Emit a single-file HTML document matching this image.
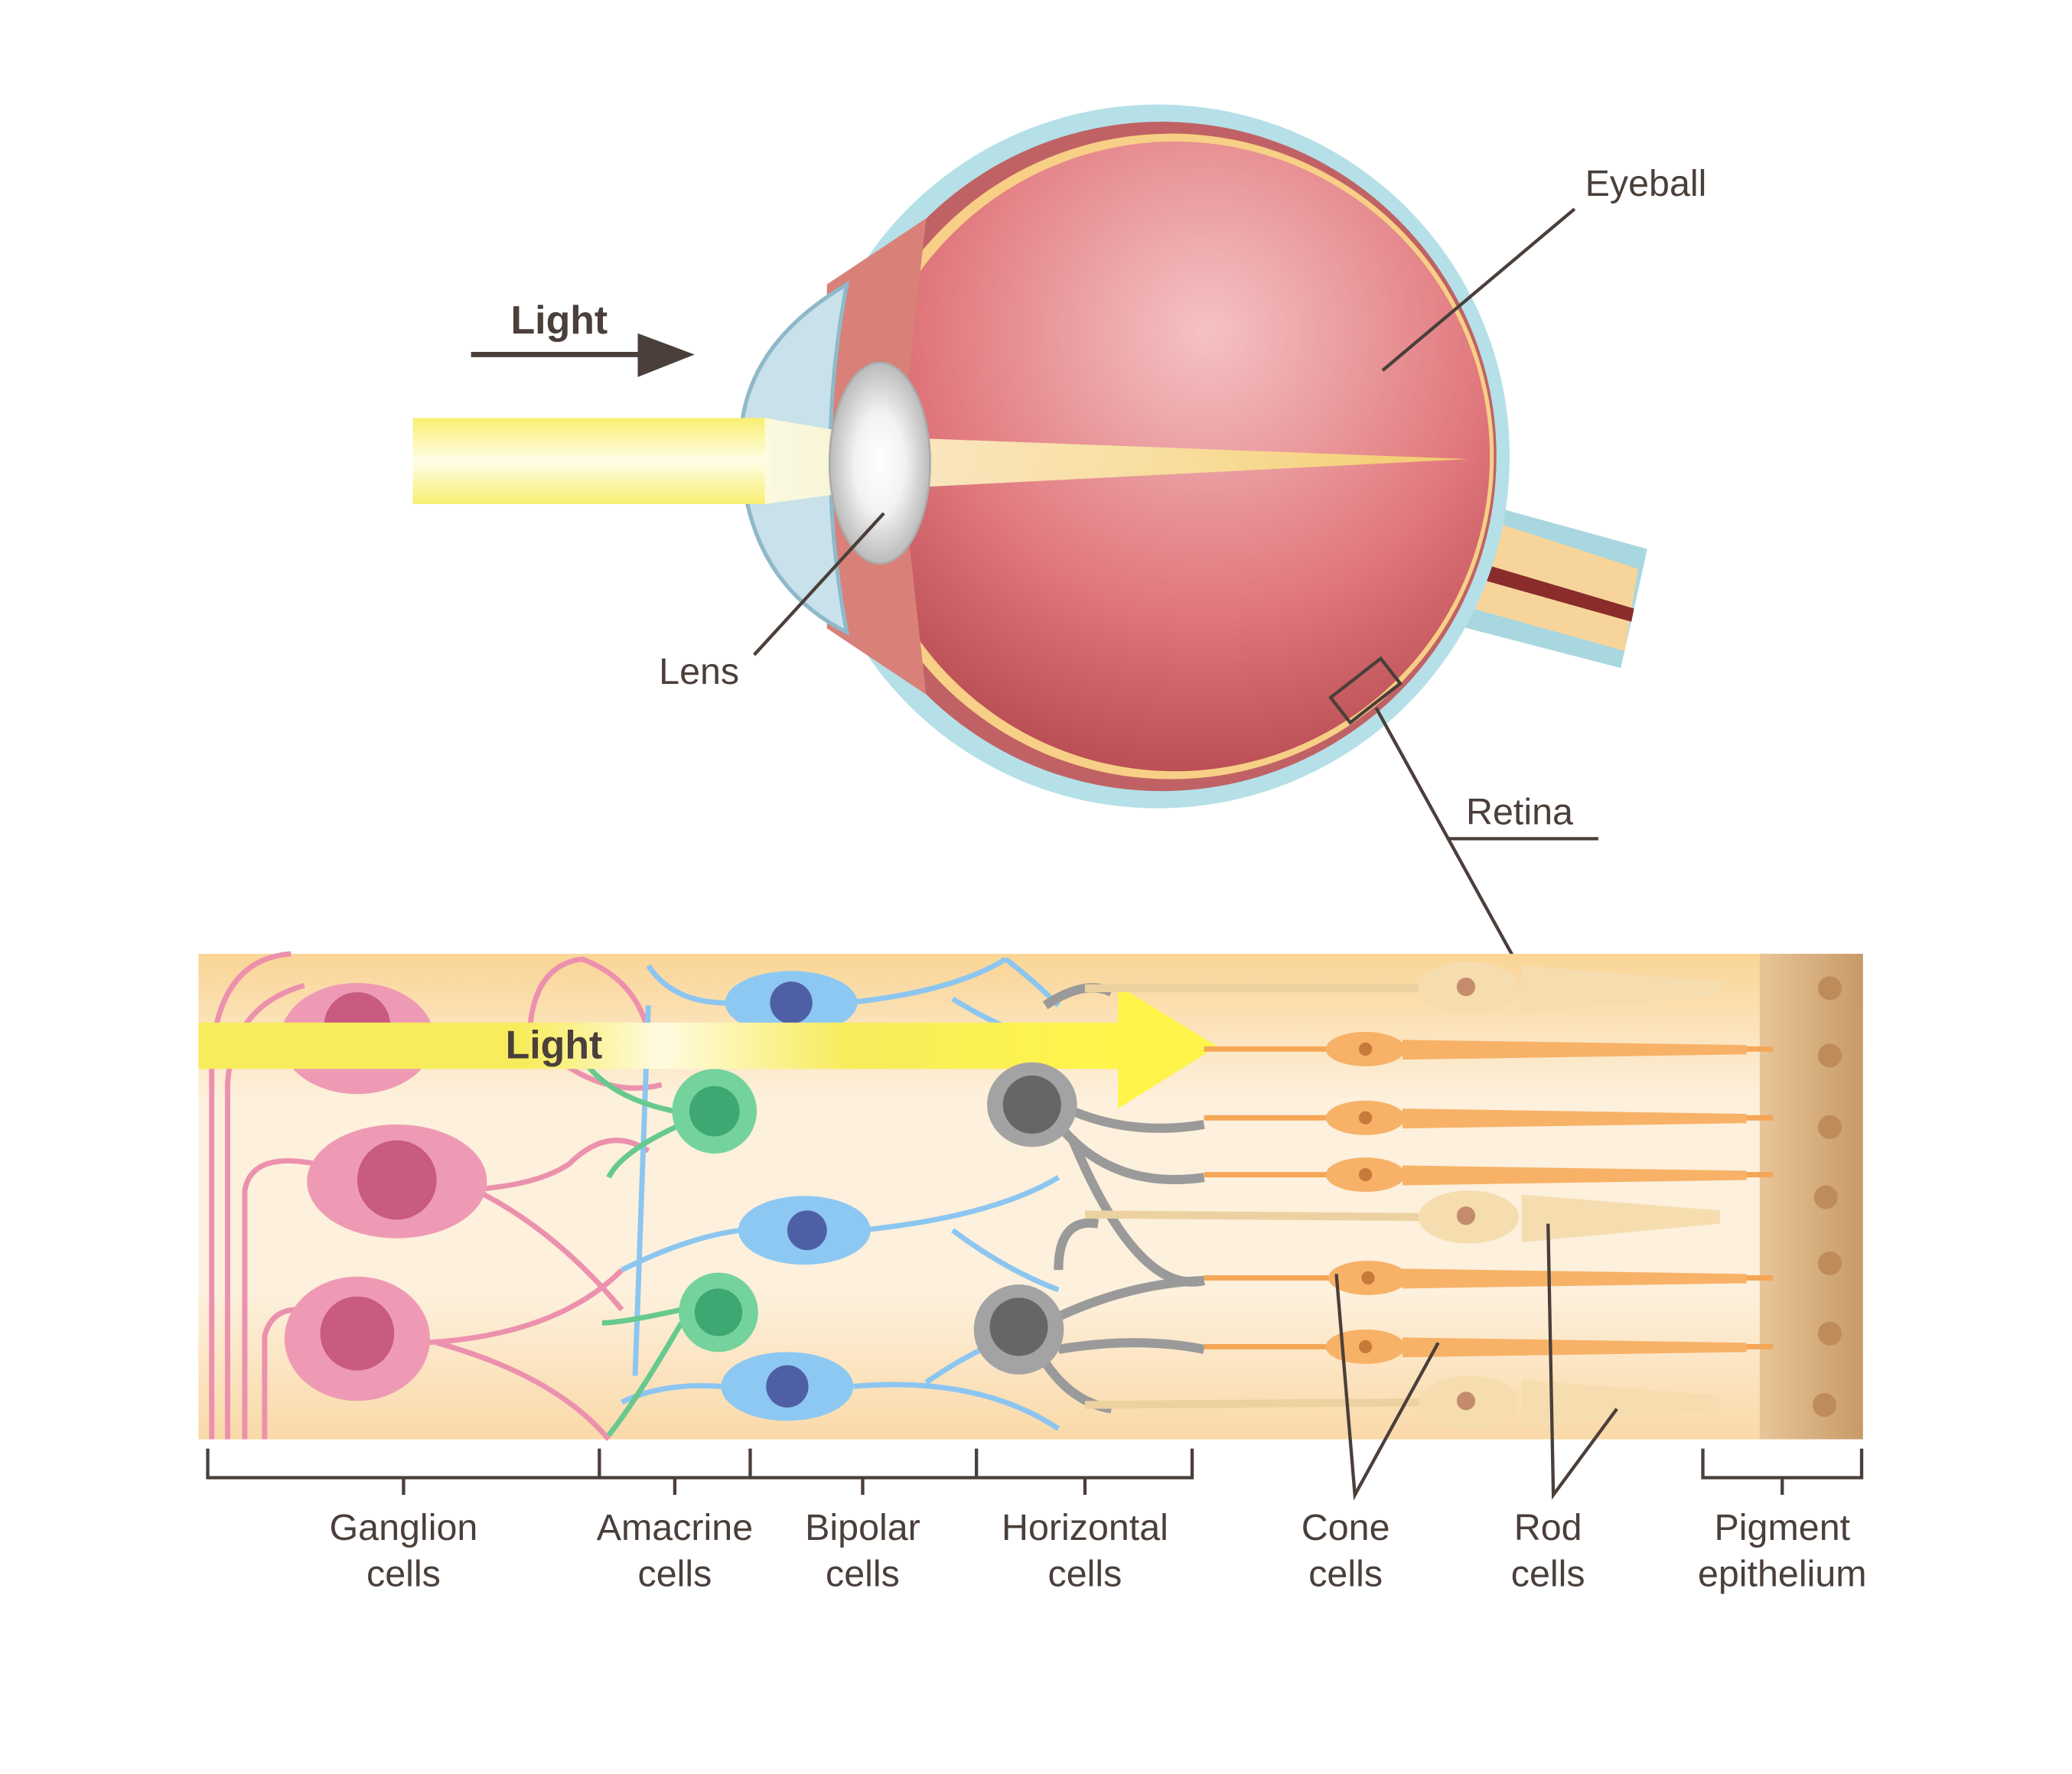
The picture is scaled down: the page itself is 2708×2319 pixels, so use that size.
<!DOCTYPE html>
<html><head><meta charset="utf-8"><style>
html,body{margin:0;padding:0;background:#fff}
svg{display:block}
text{font-family:"Liberation Sans",sans-serif;fill:#4a3f3a}
</style></head><body>
<svg width="2708" height="2319" viewBox="0 0 1566 1341" preserveAspectRatio="none" xmlns="http://www.w3.org/2000/svg">
<defs>
<radialGradient id="eb" cx="0.55" cy="0.3" r="0.75"><stop offset="0" stop-color="#f5c2c4"/><stop offset="0.6" stop-color="#e0777c"/><stop offset="1" stop-color="#b4484e"/></radialGradient>
<linearGradient id="beam" x1="0" y1="0" x2="0" y2="1"><stop offset="0" stop-color="#f8ef70"/><stop offset="0.5" stop-color="#fffde8"/><stop offset="1" stop-color="#f8ef70"/></linearGradient>
<linearGradient id="cone" x1="0" y1="0" x2="1" y2="0"><stop offset="0" stop-color="#fffbe0"/><stop offset="1" stop-color="#f5d36a"/></linearGradient>
<linearGradient id="ret" x1="0" y1="0" x2="0" y2="1"><stop offset="0" stop-color="#fad596"/><stop offset="0.3" stop-color="#fdf0dc"/><stop offset="0.7" stop-color="#fdf0dc"/><stop offset="1" stop-color="#fad9a8"/></linearGradient>
<linearGradient id="la" x1="0" y1="0" x2="1" y2="0"><stop offset="0" stop-color="#f7ec5c"/><stop offset="0.35" stop-color="#f7ec5c"/><stop offset="0.5" stop-color="#fffbe0"/><stop offset="0.7" stop-color="#f7ec5c"/><stop offset="1" stop-color="#fff54a"/></linearGradient>
<linearGradient id="pig" x1="0" y1="0" x2="1" y2="0"><stop offset="0" stop-color="#e8c598"/><stop offset="1" stop-color="#c89a68"/></linearGradient>
<radialGradient id="lens" cx="0.5" cy="0.5" r="0.5"><stop offset="0" stop-color="#fff"/><stop offset="0.5" stop-color="#f2f2f2"/><stop offset="1" stop-color="#bbb"/></radialGradient>
</defs>
<!-- optic nerve -->
<path d="M1100,375 L1245,415 L1225,505 L1090,470 Z" fill="#a9d7e0"/>
<path d="M1100,385 L1238,430 L1228,492 L1095,455 Z" fill="#f7d59a"/>
<path d="M1100,420 L1235,460 L1233,470 L1098,432 Z" fill="#8a2c2c"/>
<!-- eye shell -->
<circle cx="875" cy="345" r="266" fill="#b5e0e8"/>
<circle cx="878" cy="345" r="253" fill="#c06265"/>
<circle cx="885" cy="345" r="244" fill="#f7cf86"/>
<circle cx="888" cy="345" r="238" fill="url(#eb)"/>
<!-- iris / ciliary -->
<path d="M625,215 L700,165 L680,345 L700,525 L625,475 Z" fill="#d98078"/>
<!-- cornea -->
<path d="M640,215 Q555,265 560,345 Q565,440 640,478 Q615,345 640,215 Z" fill="#c8e1ea" stroke="#8fb9c9" stroke-width="3"/>
<!-- beam -->
<rect x="312" y="316" width="270" height="65" fill="url(#beam)"/>
<path d="M578,316 L660,330 L1110,347 L660,370 L578,381 Z" fill="url(#cone)" opacity="0.9"/>
<ellipse cx="665" cy="350" rx="38" ry="76" fill="url(#lens)" stroke="#aaa" stroke-width="1.5"/>
<!-- labels eye -->
<text x="386" y="252" font-size="30" font-weight="bold">Light</text>
<line x1="356" y1="268" x2="490" y2="268" stroke="#4a3f3a" stroke-width="4"/>
<path d="M482,252 L525,268 L482,285 Z" fill="#4a3f3a"/>
<text x="1198" y="148" font-size="28">Eyeball</text>
<line x1="1190" y1="158" x2="1045" y2="280" stroke="#4a3f3a" stroke-width="2.5"/>
<text x="498" y="517" font-size="28">Lens</text>
<line x1="570" y1="495" x2="668" y2="388" stroke="#4a3f3a" stroke-width="2.5"/>
<rect x="1008" y="510" width="48" height="24" fill="none" stroke="#4a3f3a" stroke-width="2.5" transform="rotate(-38 1032 522)"/>
<text x="1108" y="623" font-size="28">Retina</text>
<line x1="1095" y1="634" x2="1208" y2="634" stroke="#4a3f3a" stroke-width="2.5"/>
<line x1="1040" y1="535" x2="1143" y2="722" stroke="#4a3f3a" stroke-width="2.5"/>
<!-- retina panel -->
<rect x="150" y="721" width="1258" height="367" fill="url(#ret)"/>
<rect x="1330" y="721" width="78" height="367" fill="url(#pig)"/>
<g fill="#bd8c5a"><circle cx="1383" cy="747" r="9"/><circle cx="1383" cy="798" r="9"/><circle cx="1383" cy="852" r="9"/><circle cx="1380" cy="905" r="9"/><circle cx="1383" cy="955" r="9"/><circle cx="1383" cy="1008" r="9"/><circle cx="1379" cy="1062" r="9"/></g>
<!-- ganglion axons -->
<g stroke="#ec91ad" stroke-width="4" fill="none">
<path d="M160,1088 L160,800 Q165,725 220,721"/><path d="M172,1088 L172,820 Q175,760 230,745"/><path d="M185,1088 L185,900 Q190,870 240,880"/><path d="M200,1088 L200,1010 Q205,990 225,990"/>
<path d="M330,900 Q400,900 430,880 Q460,850 490,870"/><path d="M320,1015 Q420,1010 470,960"/><path d="M330,1015 Q420,1040 460,1088"/>
<path d="M400,790 Q400,730 440,725 Q480,740 490,780"/><path d="M420,800 Q460,830 500,820"/><path d="M360,900 Q420,930 470,990"/>
</g>
<g fill="#ef9ab4"><ellipse cx="270" cy="785" rx="58" ry="42"/><ellipse cx="300" cy="893" rx="68" ry="43"/><ellipse cx="270" cy="1012" rx="55" ry="47"/></g>
<g fill="#c95a80"><circle cx="270" cy="775" r="25"/><circle cx="300" cy="892" r="30"/><circle cx="270" cy="1008" r="28"/></g>
<!-- bipolar dendrites -->
<g stroke="#8cc6f0" stroke-width="4" fill="none">
<path d="M640,758 Q720,750 760,725"/><path d="M555,758 Q510,760 490,730"/><path d="M650,930 Q750,920 800,890"/><path d="M560,930 Q520,935 470,960"/><path d="M645,1048 Q740,1040 800,1080"/><path d="M545,1048 Q500,1045 470,1060"/><path d="M760,725 Q780,740 800,760"/><path d="M700,1045 Q750,1010 800,1000"/><path d="M490,760 L480,1040"/><path d="M720,930 Q760,960 800,975"/><path d="M720,755 Q760,780 800,790"/>
</g>
<g fill="#8dc8f2"><ellipse cx="598" cy="758" rx="50" ry="24"/><ellipse cx="608" cy="930" rx="50" ry="26"/><ellipse cx="595" cy="1048" rx="50" ry="26"/></g>
<g fill="#4f5fa6"><circle cx="598" cy="758" r="16"/><circle cx="610" cy="930" r="15"/><circle cx="595" cy="1048" r="16"/></g>
<!-- amacrine -->
<g stroke="#67c98e" stroke-width="4" fill="none"><path d="M510,840 Q460,830 440,800"/><path d="M515,850 Q470,870 460,890"/><path d="M515,1000 Q480,1060 460,1085"/><path d="M515,990 Q470,1000 455,1000"/></g>
<circle cx="540" cy="840" r="32" fill="#74d39c"/><circle cx="540" cy="840" r="19" fill="#3ea772"/>
<circle cx="543" cy="992" r="30" fill="#74d39c"/><circle cx="543" cy="992" r="18" fill="#3ea772"/>
<!-- light arrow -->
<rect x="150" y="773" width="700" height="35" fill="url(#la)"/>
<path d="M845,745 L920,791 L845,838 Z" fill="#fff54a"/>
<text x="382" y="800" font-size="30" font-weight="bold">Light</text>
<!-- horizontal cells -->
<g stroke="#9a9a9a" stroke-width="7" fill="none"><path d="M800,835 Q850,860 910,850"/><path d="M800,850 Q840,900 910,890"/><path d="M810,860 Q860,980 910,968"/><path d="M790,760 Q820,740 840,750"/><path d="M790,1000 Q850,970 910,968"/><path d="M800,1020 Q860,1010 910,1020"/><path d="M790,1030 Q810,1060 840,1065"/><path d="M800,960 Q800,920 830,925"/></g>
<ellipse cx="780" cy="835" rx="34" ry="32" fill="#a3a3a3"/><circle cx="780" cy="835" r="22" fill="#666"/>
<ellipse cx="770" cy="1005" rx="34" ry="34" fill="#a3a3a3"/><circle cx="770" cy="1003" r="22" fill="#666"/>
<!-- cones -->
<g>
<g stroke="#f5a656" stroke-width="4"><line x1="910" y1="793" x2="1340" y2="793"/><line x1="910" y1="845" x2="1340" y2="845"/><line x1="910" y1="888" x2="1340" y2="888"/><line x1="910" y1="966" x2="1340" y2="966"/><line x1="910" y1="1018" x2="1340" y2="1018"/></g>
<g fill="#f7b268"><path d="M1060,786 L1320,790 L1320,797 L1060,801Z"/><path d="M1060,838 L1320,842 L1320,849 L1060,853Z"/><path d="M1060,881 L1320,885 L1320,892 L1060,896Z"/><path d="M1060,959 L1320,963 L1320,970 L1060,974Z"/><path d="M1060,1011 L1320,1015 L1320,1022 L1060,1026Z"/>
<ellipse cx="1032" cy="793" rx="30" ry="13"/><ellipse cx="1032" cy="845" rx="30" ry="13"/><ellipse cx="1032" cy="888" rx="30" ry="13"/><ellipse cx="1034" cy="966" rx="30" ry="13"/><ellipse cx="1032" cy="1018" rx="30" ry="13"/></g>
<g fill="#c77b3a"><circle cx="1032" cy="793" r="5"/><circle cx="1032" cy="845" r="5"/><circle cx="1032" cy="888" r="5"/><circle cx="1034" cy="966" r="5"/><circle cx="1032" cy="1018" r="5"/></g>
</g>
<!-- rods -->
<g stroke="#ecd2a0" stroke-width="6"><line x1="820" y1="747" x2="1080" y2="747"/><line x1="820" y1="918" x2="1080" y2="920"/><line x1="820" y1="1062" x2="1080" y2="1060"/></g>
<g fill="#f5ddb0"><ellipse cx="1110" cy="747" rx="38" ry="20"/><ellipse cx="1110" cy="920" rx="38" ry="20"/><ellipse cx="1110" cy="1060" rx="38" ry="20"/>
<path d="M1150,730 L1300,742 L1300,752 L1150,766Z"/><path d="M1150,903 L1300,915 L1300,925 L1150,939Z"/><path d="M1150,1043 L1300,1055 L1300,1065 L1150,1079Z"/></g>
<g fill="#c48c6a"><circle cx="1108" cy="746" r="7"/><circle cx="1108" cy="919" r="7"/><circle cx="1108" cy="1059" r="7"/></g>
<!-- pointer lines -->
<g stroke="#4a3f3a" stroke-width="2.5" fill="none"><path d="M1010,963 L1024,1130 L1087,1015"/><path d="M1170,925 L1174,1130 L1222,1065"/></g>
<!-- brackets -->
<g stroke="#4a3f3a" stroke-width="2.5" fill="none">
<path d="M157,1095 L157,1117 L901,1117 L901,1095"/><path d="M453,1095 L453,1117"/><path d="M567,1095 L567,1117"/><path d="M738,1095 L738,1117"/>
<path d="M305,1117 L305,1130"/><path d="M510,1117 L510,1130"/><path d="M652,1117 L652,1130"/><path d="M820,1117 L820,1130"/>
<path d="M1287,1095 L1287,1117 L1407,1117 L1407,1095"/><path d="M1347,1117 L1347,1130"/>
</g>
<g font-size="28" text-anchor="middle">
<text x="305" y="1164">Ganglion</text><text x="305" y="1199">cells</text>
<text x="510" y="1164">Amacrine</text><text x="510" y="1199">cells</text>
<text x="652" y="1164">Bipolar</text><text x="652" y="1199">cells</text>
<text x="820" y="1164">Horizontal</text><text x="820" y="1199">cells</text>
<text x="1017" y="1164">Cone</text><text x="1017" y="1199">cells</text>
<text x="1170" y="1164">Rod</text><text x="1170" y="1199">cells</text>
<text x="1347" y="1164">Pigment</text><text x="1347" y="1199">epithelium</text>
</g>
</svg>
</body></html>
